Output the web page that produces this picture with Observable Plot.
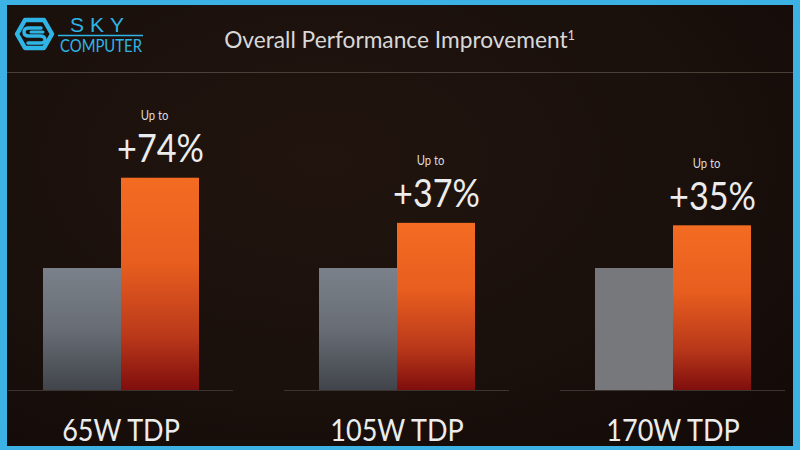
<!DOCTYPE html>
<html>
<head>
<meta charset="utf-8">
<script src="https://cdn.jsdelivr.net/npm/d3@7"></script>
<script src="https://cdn.jsdelivr.net/npm/@observablehq/plot@0.6"></script>
<style>
  html, body { margin: 0; padding: 0; }
  body { width: 800px; height: 450px; background: #3cb1e3; position: relative; overflow: hidden;
         font-family: Lato, "Open Sans", sans-serif; }
  #panel { position: absolute; left: 7px; top: 5px; width: 786px; height: 441px; overflow: hidden;
           background: radial-gradient(ellipse at 40% 35%, #21140e 0%, #1a100c 55%, #120a08 100%); }
  #hline { position: absolute; left: 0; top: 67px; width: 786px; height: 1px; background: #4a4038; }
  #titlewrap { position: absolute; left: 0; width: 786px; top: 20px; text-align: center; }
  #title { display: inline-block; color: #d8d8d8; font-size: 23px; line-height: 28px; white-space: nowrap;
           transform-origin: 50% 50%; }
  #title sup { font-size: 13px; position: relative; top: -4px; vertical-align: top; }
  #logo { position: absolute; left: 0; top: 0; }
  #chart { position: absolute; left: 0; top: 68px; }
</style>
</head>
<body>
<div id="panel">
  <svg id="logo" width="150" height="60">
    <polygon points="10,29 18,15 37,15 45,29 37,43 18,43" fill="none" stroke="#2fb4e6" stroke-width="4.5" stroke-linejoin="round"/>
    <path d="M34,23 L22,23 Q17,23 17,27 Q17,31 22,31 L33,31 Q38,31 38,35 Q38,38 33,38 L21,38" fill="none" stroke="#2fb4e6" stroke-width="3.5" stroke-linecap="round"/>
    <path d="M36,27 L24,27" stroke="#2fb4e6" stroke-width="3" stroke-linecap="round"/>
    <text x="93" y="27" text-anchor="middle" fill="#2fb4e6" font-size="21" letter-spacing="6" font-family="Liberation Sans, Arial, sans-serif">SKY</text>
    <line x1="51" x2="136" y1="30.5" y2="30.5" stroke="#2fb4e6" stroke-width="1.3"/>
    <text x="94" y="47" text-anchor="middle" fill="#2fb4e6" font-size="17" textLength="82" lengthAdjust="spacingAndGlyphs" font-family="Lato, sans-serif">COMPUTER</text>
  </svg>
  <div id="titlewrap"><span id="title">Overall Performance Improvement<sup>1</sup></span></div>
  <div id="hline"></div>
  <div id="chart"></div>
</div>
<script>
const groups = ["65W TDP", "105W TDP", "170W TDP"];
const series = ["base", "new"];
const baselineValues = [100, 100, 100];
const improvedValues = [174, 137, 135];
const improvementLabels = ["+74%", "+37%", "+35%"];
const upToText = "Up to";

const rows = groups.flatMap((g, i) => [
  {tdp: g, series: "base", value: baselineValues[i]},
  {tdp: g, series: "new", value: improvedValues[i], label: improvementLabels[i]}
]);
const newRows = rows.filter(d => d.series === "new");

const fillFor = d => d.series === "new" ? "url(#orangeGrad)" : (d.tdp === "170W TDP" ? "#77787c" : "url(#grayGrad)");

const defs = () => {
  const g = d3.create("svg:defs");
  const o = g.append("linearGradient").attr("id", "orangeGrad").attr("x1", 0).attr("y1", 0).attr("x2", 0).attr("y2", 1);
  [[0, "#f36c22"], [0.4, "#e85e1f"], [0.75, "#b9381a"], [1, "#800e0d"]].forEach(([o2, c]) => o.append("stop").attr("offset", o2).attr("stop-color", c));
  const gr = g.append("linearGradient").attr("id", "grayGrad").attr("x1", 0).attr("y1", 0).attr("x2", 0).attr("y2", 1);
  [[0, "#7b818a"], [0.5, "#686d75"], [1, "#41454b"]].forEach(([o2, c]) => gr.append("stop").attr("offset", o2).attr("stop-color", c));
  return g.node();
};

const txt = "#ececec";

const chart = Plot.plot({
  width: 786,
  height: 373,
  marginLeft: 0,
  marginRight: 6,
  marginTop: 73,
  marginBottom: 56,
  style: {background: "transparent", fontFamily: "Lato, sans-serif", overflow: "visible"},
  fx: {domain: groups, paddingInner: 0.184, paddingOuter: 0, align: 0.5, axis: null},
  x: {domain: series, paddingInner: 0, paddingOuter: 0.43, axis: null},
  y: {domain: [0, 200], axis: null},
  color: {type: "identity"},
  marks: [
    defs,
    Plot.ruleY([0], {stroke: "#3b3430", strokeWidth: 1.2}),
    Plot.barY(rows, {fx: "tdp", x: "series", y: "value", fill: fillFor}),
    Plot.text(newRows, {fx: "tdp", x: "series", y: "value", text: "label", dy: -16, lineAnchor: "bottom",
      fontSize: 38, fill: txt}),
    Plot.text(newRows, {fx: "tdp", x: "series", y: "value", text: () => upToText, dy: -58, dx: -6, lineAnchor: "bottom",
      fontSize: 12.5, fill: "#dcdcdc"}),
    Plot.text(groups, {fx: d => d, text: d => d, frameAnchor: "bottom", dy: 50, lineAnchor: "bottom", fontSize: 30, fill: txt})
  ]
});
document.getElementById("chart").appendChild(chart);

// narrow the humanist face slightly to match the condensed slide font
chart.querySelectorAll("text").forEach(t => {
  const len = t.getComputedTextLength();
  if (len > 0) {
    t.setAttribute("textLength", (len * 0.9).toFixed(1));
    t.setAttribute("lengthAdjust", "spacingAndGlyphs");
  }
});
const title = document.getElementById("title");
const w = title.getBoundingClientRect().width;
title.style.transform = `scaleX(${(351 / w).toFixed(3)})`;
</script>
</body>
</html>
